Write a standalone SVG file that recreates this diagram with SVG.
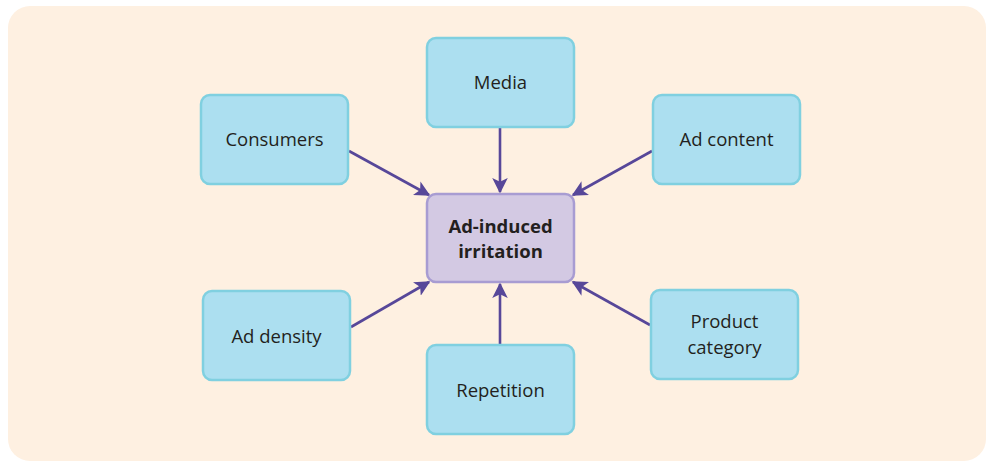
<svg xmlns="http://www.w3.org/2000/svg" width="994" height="464" viewBox="0 0 994 464">
<style>
.box{fill:#acdff0;stroke:#80d0e0;stroke-width:2.5}
.ctr{fill:#d3c9e3;stroke:#a89cd2;stroke-width:2.5}
.t{font-family:"Open Sans","Liberation Sans",sans-serif;font-size:18.5px;fill:#231f20;text-anchor:middle}
.b{font-weight:bold}
.c{stroke:#574799;stroke-width:2.6;fill:none;marker-end:url(#ah)}
</style>
<defs>
<marker id="ah" viewBox="0 0 10 10" refX="9" refY="5" markerWidth="6" markerHeight="6" markerUnits="strokeWidth" orient="auto">
<path d="M0,0 L10,5 L0,10 L2.5,5 Z" fill="#574799"/>
</marker>
</defs>
<rect x="8" y="6" width="978" height="455" rx="22" fill="#fef0e1"/>
<g id="connectors">
<line class="c" x1="349" y1="151" x2="429" y2="195"/>
<line class="c" x1="500" y1="128" x2="500" y2="192"/>
<line class="c" x1="652" y1="151" x2="573" y2="195"/>
<line class="c" x1="351" y1="327" x2="429" y2="282"/>
<line class="c" x1="500" y1="345" x2="500" y2="284"/>
<line class="c" x1="650" y1="325" x2="573" y2="282"/>
</g>
<g id="media"><rect class="box" x="427" y="38" width="147" height="89" rx="9"/><text class="t" x="500.5" y="89">Media</text></g>
<g id="consumers"><rect class="box" x="201" y="95" width="147" height="89" rx="9"/><text class="t" x="274.5" y="146">Consumers</text></g>
<g id="adcontent"><rect class="box" x="653" y="95" width="147" height="89" rx="9"/><text class="t" x="726.5" y="146">Ad content</text></g>
<g id="center"><rect class="ctr" x="427" y="194" width="147" height="88" rx="9"/><text class="t b" x="500.5" y="233">Ad-induced</text><text class="t b" x="500.5" y="258">irritation</text></g>
<g id="addensity"><rect class="box" x="203" y="291" width="147" height="89" rx="9"/><text class="t" x="276.5" y="343">Ad density</text></g>
<g id="repetition"><rect class="box" x="427" y="345" width="147" height="89" rx="9"/><text class="t" x="500.5" y="397">Repetition</text></g>
<g id="product"><rect class="box" x="651" y="290" width="147" height="89" rx="9"/><text class="t" x="724.5" y="328">Product</text><text class="t" x="724.5" y="354">category</text></g>
</svg>
